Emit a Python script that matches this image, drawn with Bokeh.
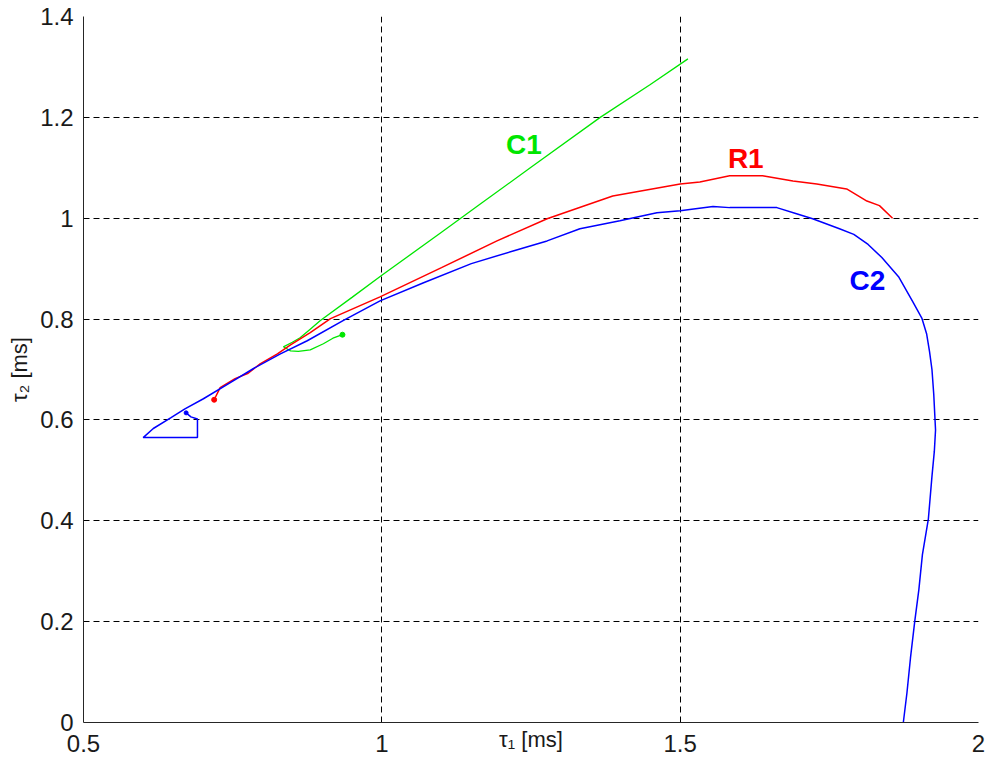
from bokeh.plotting import figure
from bokeh.models import Label, FixedTicker, Range1d
from bokeh.embed import file_html
from bokeh.resources import INLINE

# ---------------- data ----------------
c1_x = [0.934, 0.918, 0.902, 0.880, 0.860, 0.847, 0.835, 0.850, 0.863, 0.880, 0.897,
        0.950, 1.000, 1.100, 1.165, 1.250, 1.366, 1.450, 1.513]
c1_y = [0.769, 0.762, 0.751, 0.739, 0.736, 0.737, 0.745, 0.754, 0.763, 0.780, 0.797,
        0.843, 0.887, 0.972, 1.028, 1.101, 1.200, 1.265, 1.316]

r1_x = [0.719, 0.729, 0.754, 0.775, 0.796, 0.825, 0.847, 0.880, 0.914, 0.997, 1.100,
        1.193, 1.277, 1.387, 1.500, 1.533, 1.583, 1.638, 1.689, 1.729, 1.779, 1.813,
        1.834, 1.856]
r1_y = [0.640, 0.664, 0.682, 0.692, 0.711, 0.731, 0.749, 0.773, 0.801, 0.844, 0.902,
        0.955, 0.999, 1.044, 1.068, 1.072, 1.084, 1.084, 1.074, 1.068, 1.058, 1.034,
        1.025, 1.000]

c2_x = [0.672, 0.680, 0.691, 0.691, 0.600, 0.617, 0.646, 0.670, 0.701, 0.746, 0.785,
        0.830, 0.875, 0.935, 0.997, 1.070, 1.150, 1.220, 1.277, 1.332, 1.399, 1.461,
        1.500, 1.555, 1.583, 1.662, 1.695, 1.722, 1.767, 1.791, 1.815, 1.838, 1.866,
        1.890, 1.905, 1.913, 1.918, 1.922, 1.925, 1.928, 1.926, 1.922, 1.916, 1.906,
        1.900, 1.893, 1.886, 1.880, 1.874]
c2_y = [0.614, 0.606, 0.602, 0.565, 0.565, 0.583, 0.604, 0.622, 0.642, 0.674, 0.702,
        0.731, 0.757, 0.797, 0.836, 0.872, 0.910, 0.935, 0.955, 0.979, 0.995, 1.011,
        1.015, 1.023, 1.021, 1.021, 1.009, 0.999, 0.979, 0.968, 0.948, 0.922, 0.884,
        0.834, 0.802, 0.771, 0.735, 0.700, 0.651, 0.580, 0.538, 0.488, 0.404, 0.333,
        0.263, 0.199, 0.128, 0.058, 0.000]

x_ticks = [0.5, 1.0, 1.5, 2.0]
x_tick_labels = ["0.5", "1", "1.5", "2"]
y_ticks = [0.0, 0.2, 0.4, 0.6, 0.8, 1.0, 1.2, 1.4]
y_tick_labels = ["0", "0.2", "0.4", "0.6", "0.8", "1", "1.2", "1.4"]

x_title = "τ₁ [ms]"
y_title = "τ₂ [ms]"

GREEN = "#00e600"
RED = "#ff0000"
BLUE = "#0000ff"
FONT = "Liberation Sans"
INK = "#1a1a1a"

p = figure(frame_width=895, frame_height=706, output_backend="svg",
           toolbar_location=None, x_range=Range1d(0.5, 2.0), y_range=Range1d(0.0, 1.4),
           min_border_left=83, min_border_right=7, min_border_top=16, min_border_bottom=40)
p.outline_line_color = None
p.background_fill_color = "white"

for ax, ticks, labels in ((p.xaxis[0], x_ticks, x_tick_labels), (p.yaxis[0], y_ticks, y_tick_labels)):
    ax.ticker = FixedTicker(ticks=ticks)
    ax.major_label_overrides = {t: l for t, l in zip(ticks, labels)}
    ax.minor_tick_line_color = None
    ax.major_tick_in = 0
    ax.major_tick_out = 0
    ax.axis_line_color = "#262626"
    ax.axis_line_width = 1
    ax.major_label_text_font = FONT
    ax.major_label_text_font_size = "24px"
    ax.major_label_text_color = INK
    ax.axis_label_text_font = FONT
    ax.axis_label_text_font_size = "22px"
    ax.axis_label_text_font_style = "normal"
    ax.axis_label_text_color = INK
p.xaxis.major_label_standoff = 12
p.yaxis.major_label_standoff = 10
p.xaxis.axis_label = x_title
p.yaxis.axis_label = y_title
p.xaxis.axis_label_standoff = -28
p.yaxis.axis_label_standoff = 5

for g in (p.xgrid[0], p.ygrid[0]):
    g.grid_line_color = "#000000"
    g.grid_line_dash = "6 4"
    g.grid_line_width = 1
p.xgrid.ticker = FixedTicker(ticks=x_ticks)
p.ygrid.ticker = FixedTicker(ticks=y_ticks)

p.line(c1_x, c1_y, line_color=GREEN, line_width=1.3)
p.line(r1_x, r1_y, line_color=RED, line_width=1.5)
p.line(c2_x, c2_y, line_color=BLUE, line_width=1.5)
p.scatter([c1_x[0]], [c1_y[0]], size=5, color=GREEN)
p.scatter([r1_x[0]], [r1_y[0]], size=5, color=RED)
p.scatter([c2_x[0]], [c2_y[0]], size=4, color=BLUE)

# curve labels
for txt, x, y, col in (("C1", 1.238, 1.147, GREEN), ("R1", 1.610, 1.118, RED), ("C2", 1.814, 0.876, BLUE)):
    p.add_layout(Label(x=x, y=y, text=txt, text_color=col, text_font=FONT,
                       text_font_style="bold", text_font_size="28px",
                       text_align="center", text_baseline="middle"))

open("out.html", "w").write(file_html(p, INLINE))
